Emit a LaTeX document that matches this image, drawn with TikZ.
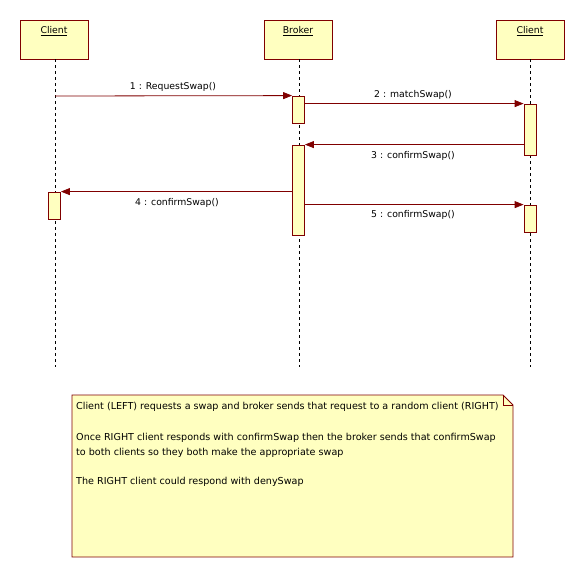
\documentclass[tikz,border=0pt]{standalone}
\usepackage{fontspec}
\setmainfont{DejaVu Sans}
\usetikzlibrary{arrows.meta}
\definecolor{umlred}{HTML}{800000}
\definecolor{umlfill}{HTML}{FFFFC0}
\begin{document}
\begin{tikzpicture}[x=1pt,y=-1pt,
 head/.style={draw=umlred, fill=umlfill, minimum width=68pt, minimum height=39pt, inner sep=0pt, line width=0.8pt},
 bar/.style={draw=umlred, fill=umlfill, minimum width=12pt, inner sep=0pt, line width=0.8pt},
 life/.style={dash pattern=on 3pt off 3pt, line width=0.6pt},
 msg/.style={draw=umlred, line width=0.8pt, -{Triangle[length=9pt,width=7pt]}},
 lbl/.style={font=\fontsize{9.3pt}{15pt}\selectfont, inner sep=0pt},
 notetext/.style={font=\fontsize{9.6pt}{15pt}\selectfont, inner sep=0pt},
 notebox/.style={draw=umlred, fill=umlfill, line width=0.8pt}]
\useasboundingbox (0,0) rectangle (585,578);
% heads
\node[head] (c1) at (54,39.5) {};
\node[head] (br) at (298,39.5) {};
\node[head] (c2) at (530,39.5) {};
\node[lbl] (c1t) at (54,31) {\underline{Client}};
\node[lbl] (brt) at (298,31) {\underline{Broker}};
\node[lbl] (c2t) at (530,31) {\underline{Client}};
% lifeline ends
\coordinate (c1e) at (55,367);
\coordinate (bre) at (299,367);
\coordinate (c2e) at (530,367);
\draw[life] (c1e |- c1.south) -- (c1e);
\draw[life] (bre |- br.south) -- (bre);
\draw[life] (c2e |- c2.south) -- (c2e);
% activation bars
\node[bar, minimum height=27pt] (b1) at (298.5,109.5) {};
\node[bar, minimum height=90pt] (b2) at (298.5,190) {};
\node[bar, minimum height=51pt] (r1) at (530,129.5) {};
\node[bar, minimum height=27pt] (r2) at (530,218.5) {};
\node[bar, minimum height=27pt] (l1) at (54.5,205.5) {};
% messages
\coordinate (m1s) at (55,96);
\draw[msg] (m1s) -- (b1.north west);
\draw[msg] (b1.east |- r1.north) -- (r1.north west);
\draw[msg] (r1.west |- b2.north) -- (b2.north east);
\draw[msg] (b2.west |- l1.north) -- (l1.north east);
\draw[msg] (b2.east |- r2.north) -- (r2.north west);
\node[lbl] (t1) at (173,87) {1 : RequestSwap()};
\node[lbl] (t2) at (413,95) {2 : matchSwap()};
\node[lbl] (t3) at (413,156) {3 : confirmSwap()};
\node[lbl] (t4) at (177,203) {4 : confirmSwap()};
\node[lbl] (t5) at (413,215) {5 : confirmSwap()};
% note
\draw[notebox] (72,395) -- (503,395) -- (513,405) -- (513,557) -- (72,557) -- cycle;
\draw[umlred, line width=0.8pt] (503,395) -- (503,405) -- (513,405);
\node[notetext, anchor=north west, align=left] (nt) at (76,401.5) {Client (LEFT) requests a swap and broker sends that request to a random client (RIGHT)\\[16pt]
Once RIGHT client responds with confirmSwap then the broker sends that confirmSwap\\
to both clients so they both make the appropriate swap\\[14pt]
The RIGHT client could respond with denySwap};
\end{tikzpicture}
\end{document}
